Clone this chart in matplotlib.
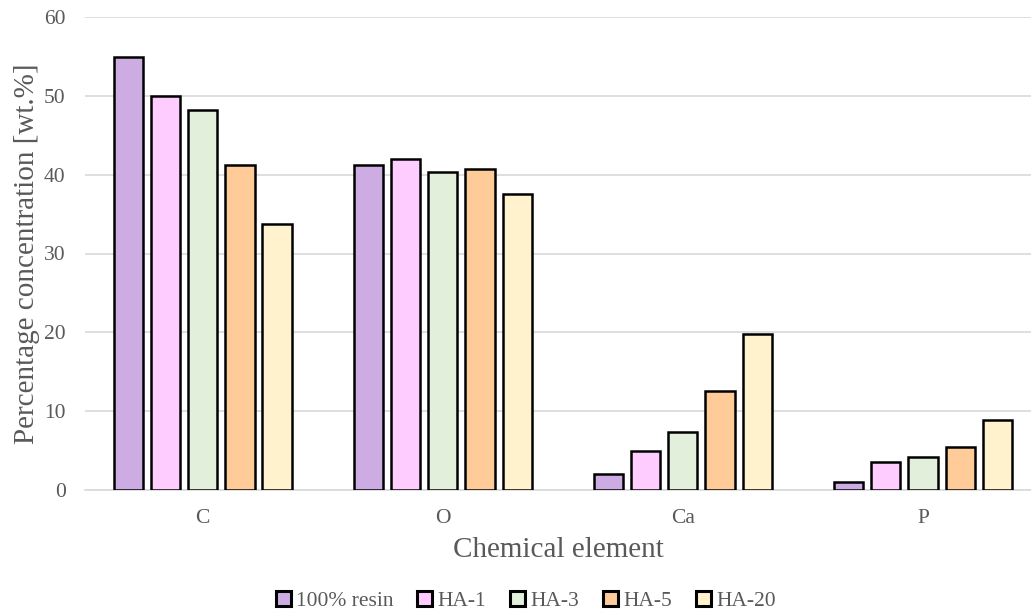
import matplotlib
matplotlib.use("Agg")
import matplotlib.pyplot as plt
import numpy as np

categories = ["C", "O", "Ca", "P"]
series_names = ["100% resin", "HA-1", "HA-3", "HA-5", "HA-20"]
resin_100 = [54.9, 41.2, 2.0, 1.05]
ha_1 = [50.0, 42.0, 4.9, 3.55]
ha_3 = [48.2, 40.4, 7.3, 4.2]
ha_5 = [41.2, 40.7, 12.6, 5.45]
ha_20 = [33.7, 37.6, 19.8, 8.9]
yticks = [0, 10, 20, 30, 40, 50, 60]

colors = ["#CDACE3", "#FFCCFF", "#E2EFDA", "#FFCC99", "#FFF2CC"]
series = [resin_100, ha_1, ha_3, ha_5, ha_20]

plt.rcParams['font.family'] = ['Liberation Serif', 'DejaVu Serif']

W, H = 1031, 615
fig = plt.figure(figsize=(W / 100, H / 100), dpi=100)
ax = fig.add_axes([85 / W, 1 - 490 / H, (W - 85) / W, (490 - 17) / H])

x = np.arange(len(categories))
step = 0.155
width = 0.122
for i, (vals, c, name) in enumerate(zip(series, colors, series_names)):
    ax.bar(x + (i - 2) * step, vals, width=width, color=c, edgecolor="black",
           linewidth=1.8, label=name, zorder=3)

ax.set_xlim(-0.49, 3.45)
ax.set_ylim(0, 60)
ax.set_yticks(yticks)
ax.set_xticks(x)
ax.set_xticklabels(categories)
ax.yaxis.grid(True, color="#D9D9D9", linewidth=1.2, zorder=0)
ax.set_axisbelow(True)
for s in ["top", "right", "left"]:
    ax.spines[s].set_visible(False)
ax.spines["bottom"].set_color("#D9D9D9")
ax.spines["bottom"].set_linewidth(1.2)
ax.tick_params(axis="both", length=0, labelsize=15.5, colors="#595959")
ax.tick_params(axis="x", pad=14)
ax.tick_params(axis="y", pad=14)

ax.set_ylabel("Percentage concentration [wt.%]", fontsize=21, color="#595959", labelpad=3)
ax.set_xlabel("Chemical element", fontsize=21, color="#595959", labelpad=6)

leg = fig.legend(loc="center", bbox_to_anchor=(0.51, 1 - 601 / H), ncol=5, frameon=False,
                 fontsize=15.5, handlelength=0.7, handleheight=0.7, handletextpad=0.25,
                 columnspacing=1.1, labelcolor="#595959")
for h in leg.legend_handles:
    h.set_linewidth(2.2)

fig.savefig("out.png", dpi=100)
